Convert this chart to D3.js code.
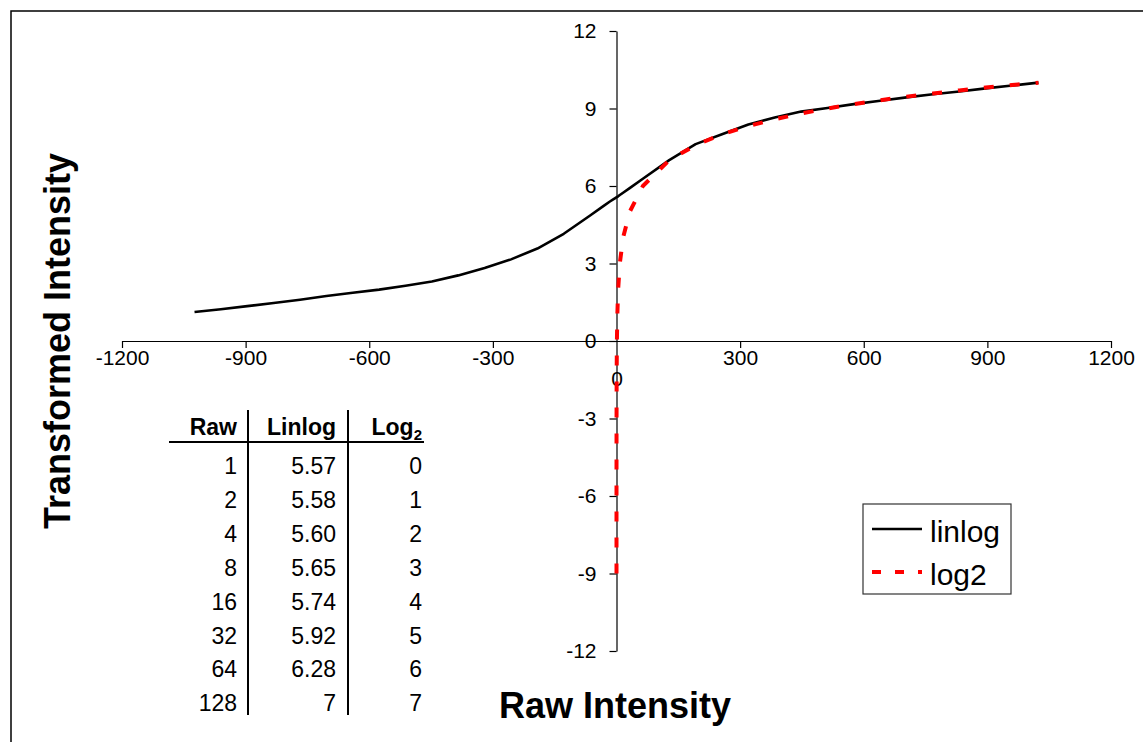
<!DOCTYPE html>
<html><head><meta charset="utf-8">
<script src="https://cdn.jsdelivr.net/npm/d3@7"></script>
<style>
html,body{margin:0;padding:0;background:#fff;}
svg{display:block;font-family:"Liberation Sans",Arial,sans-serif;}
</style></head>
<body>
<svg id="chart" width="1143" height="742"></svg>
<script>
// ---- data ----
const xTicks = [-1200,-900,-600,-300,0,300,600,900,1200];
const yTicks = [-12,-9,-6,-3,0,3,6,9,12];

const linlogX = [-1024,-960,-896,-832,-768,-704,-640,-576,-512,-448,-384,-320,-256,-192,-128,-64,-32,-16,-8,-4,-2,-1,
                 1,2,4,8,16,32,64,128,192,256,320,384,448,512,576,640,704,768,832,896,960,1024];
const linlogY = [1.12,1.23,1.35,1.47,1.60,1.74,1.87,1.99,2.14,2.30,2.54,2.83,3.16,3.58,4.15,4.86,5.22,5.40,5.48,5.52,5.54,5.56,
                 5.57,5.58,5.60,5.65,5.74,5.92,6.28,7.00,7.62,8.00,8.38,8.65,8.88,9.02,9.17,9.30,9.43,9.55,9.66,9.78,9.89,10.00];

const log2X = [0.001953,0.003906,0.007813,0.015625,0.03125,0.0625,0.125,0.25,0.5,
               1,2,4,8,16,32,64,128,192,256,320,384,448,512,576,640,704,768,832,896,960,1024];
const log2Y = [-9,-8,-7,-6,-5,-4,-3,-2,-1,
               0,1,2,3,4,5,6,7,7.58,8,8.32,8.58,8.81,9,9.17,9.32,9.46,9.58,9.70,9.81,9.91,10];

const tableRaw = ["1","2","4","8","16","32","64","128"];
const tableLinlog = ["5.57","5.58","5.60","5.65","5.74","5.92","6.28","7"];
const tableLog2 = ["0","1","2","3","4","5","6","7"];

const seriesNames = ["linlog","log2"];
const seriesColors = ["#000000","#ff0000"];

// ---- drawing ----
const svg = d3.select("#chart");

// outer frame (right/bottom edges lie beyond the view)
svg.append("rect").attr("x",11).attr("y",11).attr("width",1200).attr("height",800)
  .attr("fill","none").attr("stroke","#000").attr("stroke-width",1.5);

const x = d3.scaleLinear().domain([-1200,1200]).range([122,1111]);
const y = d3.scaleLinear().domain([-12,12]).range([651,31]);
const fmt = d => String(d);

// x axis
const gx = svg.append("g").attr("transform",`translate(0,${y(0)})`)
  .call(d3.axisBottom(x).tickValues(xTicks).tickFormat(fmt).tickSize(7).tickSizeOuter(0).tickPadding(2));
gx.selectAll("text").attr("font-size",21).attr("fill","#000").attr("font-family","Liberation Sans, Arial, sans-serif");
gx.selectAll(".tick").filter(d=>d===0).select("text").attr("dy","1.72em");
gx.selectAll(".tick").filter(d=>d===0).select("line").remove();

// y axis
const gy = svg.append("g").attr("transform",`translate(${x(0)},0)`)
  .call(d3.axisLeft(y).tickValues(yTicks).tickFormat(fmt).tickSize(7).tickSizeOuter(0).tickPadding(13));
gy.selectAll("text").attr("font-size",21).attr("fill","#000").attr("font-family","Liberation Sans, Arial, sans-serif");
svg.selectAll(".domain").attr("stroke","#000").attr("stroke-width",1.2);
svg.selectAll(".tick line").attr("stroke","#000").attr("stroke-width",1.2);

// lines
const line = d3.line().x(d=>x(d[0])).y(d=>y(d[1]));
svg.append("path").datum(linlogX.map((v,i)=>[v,linlogY[i]]))
  .attr("d",line).attr("fill","none").attr("stroke",seriesColors[0]).attr("stroke-width",2.6)
  .attr("stroke-linejoin","round");
svg.append("path").datum(log2X.map((v,i)=>[v,log2Y[i]]))
  .attr("d",line).attr("fill","none").attr("stroke",seriesColors[1]).attr("stroke-width",4)
  .attr("stroke-dasharray","10,16");

// axis titles
svg.append("text").attr("x",615).attr("y",718).attr("text-anchor","middle")
  .attr("font-size",36).attr("font-weight","bold").text("Raw Intensity");
svg.append("text").attr("transform","translate(70,341) rotate(-90)").attr("text-anchor","middle")
  .attr("font-size",36).attr("font-weight","bold").text("Transformed Intensity");

// legend
const lg = svg.append("g");
lg.append("rect").attr("x",863).attr("y",504).attr("width",148).attr("height",90)
  .attr("fill","#fff").attr("stroke","#333").attr("stroke-width",1.2);
seriesNames.forEach((n,i)=>{
  const ly = 529 + i*43;
  lg.append("line").attr("x1",872).attr("x2",922).attr("y1",ly).attr("y2",ly)
    .attr("stroke",seriesColors[i]).attr("stroke-width",i===0?2.6:4)
    .attr("stroke-dasharray",i===0?null:"9,14");
  lg.append("text").attr("x",930).attr("y",ly+13).attr("font-size",30).text(n);
});

// table
const tg = svg.append("g").attr("font-size",23);
const colRight = [237,336,422];
const headerY = 435;
tg.append("text").attr("x",colRight[0]).attr("y",headerY).attr("text-anchor","end").attr("font-weight","bold").text("Raw");
tg.append("text").attr("x",colRight[1]).attr("y",headerY).attr("text-anchor","end").attr("font-weight","bold").text("Linlog");
const lt = tg.append("text").attr("x",colRight[2]).attr("y",headerY).attr("text-anchor","end").attr("font-weight","bold");
lt.append("tspan").text("Log");
lt.append("tspan").attr("font-size",15).attr("dy",5).text("2");
tg.append("line").attr("x1",169).attr("x2",424).attr("y1",442).attr("y2",442).attr("stroke","#000").attr("stroke-width",2);
[248,348].forEach(vx=>tg.append("line").attr("x1",vx).attr("x2",vx).attr("y1",410).attr("y2",715)
  .attr("stroke","#000").attr("stroke-width",2));
const rowStep = 33.9;
[tableRaw,tableLinlog,tableLog2].forEach((col,ci)=>{
  col.forEach((t,ri)=>{
    tg.append("text").attr("x",colRight[ci]).attr("y",474+ri*rowStep).attr("text-anchor","end").text(t);
  });
});
</script>
</body></html>
